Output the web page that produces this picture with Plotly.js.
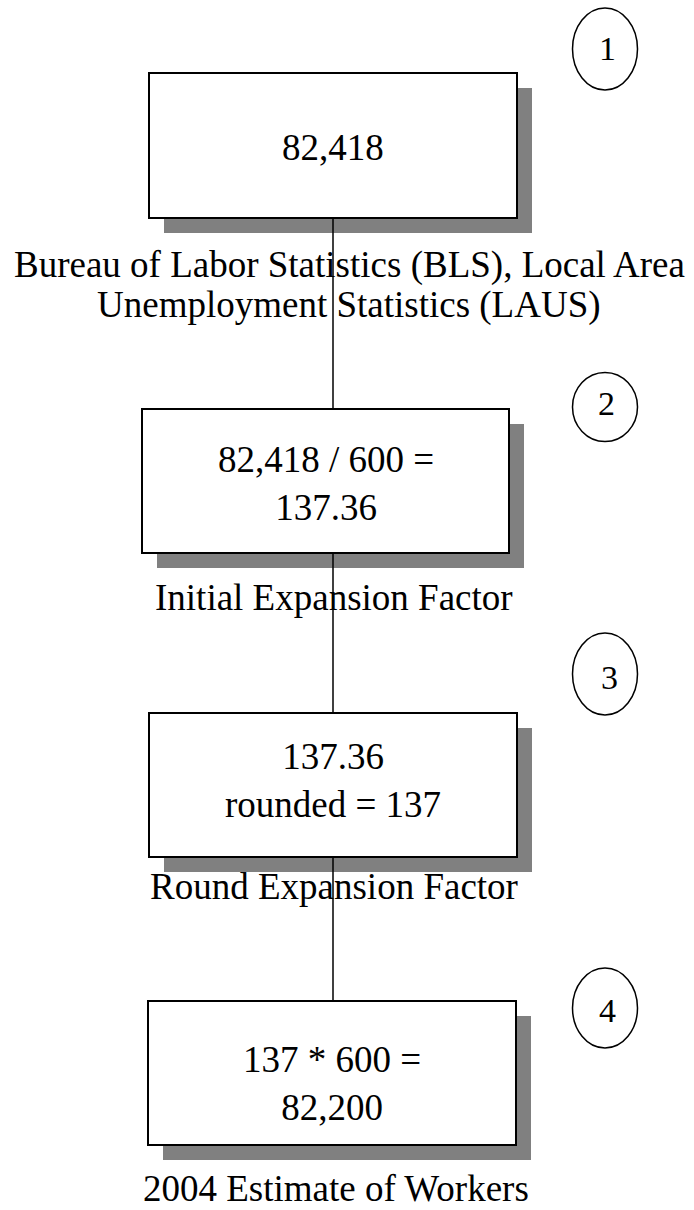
<!DOCTYPE html>
<html>
<head>
<meta charset="utf-8">
<script src="https://cdn.plot.ly/plotly-3.0.1.min.js"></script>
<style>
  html, body { margin: 0; padding: 0; background: #ffffff; }
  #chart { width: 694px; height: 1210px; }
</style>
</head>
<body>
<div id="chart"></div>
<script>
// ---- Data (content of the flow chart) ----
const stepNumbers = ['1', '2', '3', '4'];
const boxLines = [
  ['82,418'],
  ['82,418 / 600 =', '137.36'],
  ['137.36', 'rounded = 137'],
  ['137 * 600 =', '82,200']
];
const captionLines = [
  ['Bureau of Labor Statistics (BLS), Local Area', 'Unemployment Statistics (LAUS)'],
  ['Initial Expansion Factor'],
  ['Round Expansion Factor'],
  ['2004 Estimate of Workers']
];

// ---- Geometry (page coordinates, separate from data) ----
const W = 694, H = 1210;
const boxGeom = [
  { x0: 149, x1: 517, y0: 73,   y1: 218,  textY: 147 },
  { x0: 142, x1: 509, y0: 409,  y1: 553,  textY: 483 },
  { x0: 149, x1: 517, y0: 713,  y1: 857,  textY: 780 },
  { x0: 148, x1: 516, y0: 1001, y1: 1145, textY: 1083 }
];
const captionGeom = [
  { x: 349, y: 265, dy: 40 },
  { x: 334, y: 597, dy: 40 },
  { x: 334, y: 886, dy: 40 },
  { x: 336, y: 1188, dy: 40 }
];
const circleGeom = [
  { cx: 605, cy: 49,   rx: 32.5, ry: 41,   tx: 607, ty: 48 },
  { cx: 605, cy: 407,  rx: 32.5, ry: 34.5, tx: 606, ty: 403 },
  { cx: 605, cy: 674,  rx: 32.5, ry: 41,   tx: 609, ty: 677 },
  { cx: 605, cy: 1008, rx: 32.5, ry: 40,   tx: 607, ty: 1010 }
];
const connectorX = 333;
const shadowOffset = 15;
const serif = 'Liberation Serif, Times New Roman, serif';

const shapes = [];
const annotations = [];

// shadows
boxGeom.forEach(b => {
  shapes.push({
    type: 'rect', xref: 'x', yref: 'y', layer: 'above',
    x0: b.x0 + shadowOffset, x1: b.x1 + shadowOffset,
    y0: b.y0 + shadowOffset, y1: b.y1 + shadowOffset,
    fillcolor: '#808080', line: { width: 0 }
  });
});
// connector line (over shadows, under boxes)
shapes.push({
  type: 'line', xref: 'x', yref: 'y', layer: 'above',
  x0: connectorX, x1: connectorX,
  y0: boxGeom[0].y1, y1: boxGeom[boxGeom.length - 1].y0,
  line: { color: '#000000', width: 1.5 }
});
// boxes
boxGeom.forEach(b => {
  shapes.push({
    type: 'rect', xref: 'x', yref: 'y', layer: 'above',
    x0: b.x0, x1: b.x1, y0: b.y0, y1: b.y1,
    fillcolor: '#ffffff', line: { color: '#000000', width: 2 }
  });
});
// step circles
circleGeom.forEach(c => {
  shapes.push({
    type: 'circle', xref: 'x', yref: 'y', layer: 'above',
    x0: c.cx - c.rx, x1: c.cx + c.rx, y0: c.cy - c.ry, y1: c.cy + c.ry,
    fillcolor: 'rgba(0,0,0,0)', line: { color: '#000000', width: 1.5 }
  });
});

// box texts
boxLines.forEach((lines, i) => {
  annotations.push({
    xref: 'x', yref: 'y', x: (boxGeom[i].x0 + boxGeom[i].x1) / 2, y: boxGeom[i].textY,
    text: lines.join('<br>'), showarrow: false,
    xanchor: 'center', yanchor: 'middle', align: 'center',
    font: { family: serif, size: 37, color: '#000000' }
  });
});
// captions
captionLines.forEach((lines, i) => {
  lines.forEach((ln, j) => {
    annotations.push({
      xref: 'x', yref: 'y', x: captionGeom[i].x, y: captionGeom[i].y + j * captionGeom[i].dy,
      text: ln, showarrow: false,
      xanchor: 'center', yanchor: 'middle', align: 'center',
      font: { family: serif, size: 37, color: '#000000' }
    });
  });
});
// step numbers
stepNumbers.forEach((n, i) => {
  annotations.push({
    xref: 'x', yref: 'y', x: circleGeom[i].tx, y: circleGeom[i].ty,
    text: n, showarrow: false,
    xanchor: 'center', yanchor: 'middle',
    font: { family: serif, size: 34, color: '#000000' }
  });
});

const layout = {
  width: W, height: H,
  margin: { l: 0, r: 0, t: 0, b: 0, pad: 0 },
  paper_bgcolor: '#ffffff', plot_bgcolor: '#ffffff',
  showlegend: false,
  xaxis: { range: [0, W], visible: false, fixedrange: true },
  yaxis: { range: [H, 0], visible: false, fixedrange: true },
  shapes: shapes,
  annotations: annotations
};

Plotly.newPlot('chart', [{ type: 'scatter', x: [], y: [], hoverinfo: 'skip' }], layout, { staticPlot: true, displayModeBar: false });
</script>
</body>
</html>
